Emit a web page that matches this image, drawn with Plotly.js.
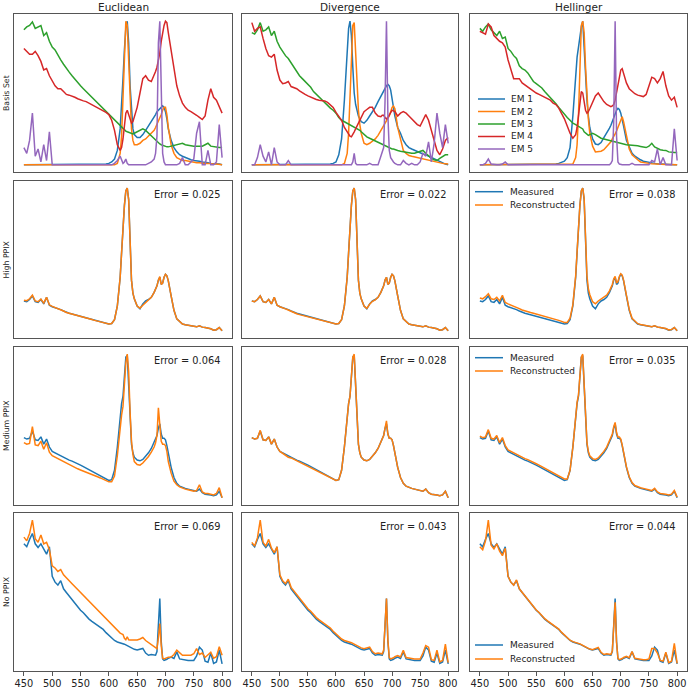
<!DOCTYPE html>
<html>
<head>
<meta charset="utf-8">
<script src="https://cdn.plot.ly/plotly-3.0.1.min.js"></script>
<style>
  html, body { margin: 0; padding: 0; background: #ffffff; }
  #chart { width: 690px; height: 688px; }
</style>
</head>
<body>
<div id="chart"></div>
<script>
// Wavelength grid (nm); finer steps around the 630 nm and 690 nm bands
const wavelength = [450,455,460,465,470,475,480,485,490,495,500,505,510,515,520,525,530,535,540,545,550,555,560,565,570,575,580,585,590,595,600,605,610,615,
  620,622.5,625,627.5,630,632.5,635,637.5,640,642.5,645,
  650,655,660,665,670,675,
  680,682.5,685,687.5,690,692.5,695,697.5,700,702.5,705,
  710,715,720,725,730,735,740,745,750,755,760,765,770,775,780,785,790,795,800];

const methods = ['Euclidean', 'Divergence', 'Hellinger'];
const rowLabels = ['Basis Set', 'High PPIX', 'Medium PPIX', 'No PPIX'];
const endmemberNames = ['EM 1', 'EM 2', 'EM 3', 'EM 4', 'EM 5'];

// ---- Endmember basis spectra (normalised to peak = 100) ----
const euclideanEM1 = [0,0,0,0,0,0,0,0,0,0, 0,0,0,0,0,0,0,0,0,0, 0,0,0,0,0,0,0,0,0,0.5, 1,2,4,10,
  25,40,60,80,95,100,85,55,35,25,21,
  19,19,21,24,27,30,
  33,35,37,38,39,40,41,40,37,32,25,
  17,12,9,7,6,5,4,3.5,3,3,2.5,2,2,1.5,1,1,0.5,0.5,0];
const euclideanEM2 = [0,0,0,0,0,0,0,0,0,0, 0,0,0,0,0,0,0,0,0,0, 0,0,0,0,0,0,0,0,0,0, 0,0,0,1,
  8,20,45,80,100,97,70,40,25,17,14,
  14,15,17,18,20,22,
  24,26,28,30,32,35,38,40,40,35,26,
  14,8,5,4,3,3,2.5,2,2,1.5,1.5,1,1,1,0.5,0.5,0.5,0,0];
const euclideanEM3 = [94,96,97,99.5,95,96,97,90,92,86, 82,80,76,73,70,67,64.5,62,59.5,57, 55,53,51,49,47,45,43,41,39.5,37.5, 35,33,31,29,
  27,26,25,24,23.5,23,22.5,22,21.5,21.5,22,
  23,24.5,25,24,22,20,
  18,17,16,15,14.5,14,13.5,13,12.5,12.5,12.5,
  13,13.5,14,14.5,15,14,13.5,13,13,13,13,13,14,15,13,12.5,12.5,12,12];
const euclideanEM4 = [81,79,77,77,79,76,72,66,67,62, 58,55,53,53,51,49,48.5,48,47,46, 45,44.5,44,43,42,41,40,39,37.5,36.5, 35,31,24,14,
  10,12,18,28,36,38,35,31,29,30,33,
  40,50,60,62,59,58,
  62,65,68,72,78,86,92,97,100,99,92,
  80,65,55,48,43,40,38,37,36,34.5,33,31.5,34,45,53,47,45,41,36];
const euclideanEM5 = [12,8,17,36,6,11,2,14,3,23, 0,0,0,0,0,0,0,0,0,0, 0,0,0,0,0,0,0,0,0,0, 0,0,1,3,
  6,3,1,2,4,1,0,0,0,0,0,
  0,0,0,0,1,2,
  4,8,20,85,100,60,8,2,0,0,0,
  0,0,0,1,5,0,0,2,4,22,30,0,0,10,0,0,2,28,5];

const divergenceEM1 = [0,0,0,0,0,0,0,0,0,0, 0,0,0,0,0,0,0,0,0,0, 0,0,0,0,0,0,0,0,0.5,1, 2,7,18,45,
  80,95,100,90,68,50,42,37,34,32,30,
  29,31,34,37,40,44,
  48,50,52,54,55,56,55,52,47,40,34,
  26,22,17,14,12,11,10,9,8,7.5,7,6,5,4,3,2,1,0.5,0];
const divergenceEM2 = [0,0,0,0,0,0,0,0,0,0, 0,0,0,0,0,0,0,0,0,0, 0,0,0,0,0,0,0,0,0,0, 0,0,0,1,
  8,22,50,80,97,99,80,55,38,28,22,
  15,14,15,16.5,18,20.5,
  24,25.5,27,28.5,30,32,34,37,40,41,39,
  26,17,10,8,6.5,6,5.5,5,4.5,4,3.5,3,2.5,2,1.5,1.2,1,0.8,0.5];
const divergenceEM3 = [92,91,94,99,93,94,96,90,93,86, 82,79,76,74,71,68,65,62,60,58, 56,54,51,49,47,45,43,41,39.5,38, 36,33,31,30,
  29,28.5,28,27.5,27,26.5,26,25.5,25,24,23,
  21,19.5,18.5,17.5,16.5,15.5,
  14.5,14,13.5,13,12.5,12,11.8,11.5,11,11,10.5,
  10,9.5,9,8.5,8,8,8,8.5,9.5,10,8,6,4.5,3.5,3,4.5,6,7,7];
const divergenceEM4 = [99,93,95,96,88,81,76,75,77,66, 59,56.5,57,58,54.5,54,53,51.5,50,49, 48,47,46,45.5,45,45,44.5,43.5,41.5,40, 36.5,34,31,26,
  23,21,20,19.5,21,23,25,27,29,31,34,
  37,38.5,40,40,36,34,
  33.5,34.5,34.5,33,32,33,35,37,38,37.5,37,
  34,36,37,36,34,32,30,28,27,31,35,31,24,16,10,7,11,17,19];
const divergenceEM5 = [0,0,5,14,6,2,9,0,12,2, 0,0,0,3,0,0,0,0,0,0, 0,0,0,0,0,0,0,0,0,0, 0,0,0,0,
  0,0,0,0,2,8,1,0,0,0,0,
  0,0,1,0,0,0,
  6,9,12,45,100,35,10,5,3,2,1,
  0,0,3,1,0,1,0,0,2,8,6,16,2,15,36,22,12,28,15];

const hellingerEM1 = [0,0,0,0,0,0,0,0,0,0, 0,0,0,0,0,0,0,0,0,0, 0,0,0,0,0,0,0,0.5,1,1.5, 2.5,5,12,34,
  63,75,82,90,96,100,80,62,45,34,26,
  18,14.5,14,15.5,19,22,
  25.5,27.5,30,33,35.8,38,39.3,38.5,36,32,27,
  17,12,8,6,4.5,3.5,2.5,2,1.5,1.2,1,0.8,0.6,0.5,0.4,0.3,0.2,0.1,0];
const hellingerEM2 = [0,0,0,0,0,0,0,0,0,0, 0,0,0,0,0,0,0,0,0,0, 0,0,0,0,0,0,0,0,0,0, 0,0,0,0.5,
  5,14,35,75,97,100,92,68,48,32,22,
  13,9,9,9.5,10.5,12.5,
  14.5,16,18,19.5,21.5,23.5,26,29,32,33.5,30,
  20,11,7,5,3.5,2,1.5,1.2,1,0.8,0.6,0.5,0.4,0.3,0.2,0.2,0.1,0.1,0];
const hellingerEM3 = [95,93,96,98,94,92,90,93,88,89, 81,79,76,74,69,67,66,64,61,58, 56.5,55,53.5,51,49,47,45,42.5,40,37.5, 35,33,31,29,
  28,27.5,27,26.5,26,25,23,22,21,20.5,21,
  22,21,19.5,18.5,18,17.5,
  17,16.5,16.3,16,15.5,15.3,15,14.8,14.5,14.4,14.3,
  14,13.8,13.7,13.5,13.2,12.8,12.5,12,13,15,12.5,11.5,10.5,10.2,10,9,8.5,8.5,8.5];
const hellingerEM4 = [93,92,91,98,96,90,88,86,85,82, 73,66,60,60,60,57,55.5,54,52.5,51, 50,49,48,47,46,45,43,42,39.5,36, 32,27,22,18.5,
  21,26,34,44,51,50,43,38,36,37,39,
  44,48,50,47,44,42,
  41,40.5,41,42,45,50,56,62,66,67,63,
  57,53,51,49.5,48.5,48,47.5,49,55,61,60,57,60,65,55,48,45,47,40];
const hellingerEM5 = [0,0,1,4,0.5,0,0,0,0.5,2, 0,0,0,0,0,0,0,0,0,0, 0,0,0,0,0,0,0,0,0,0, 0,0,0,0,
  0,0,0,0,0,0,0,0,0,0,0,
  0,0,0,0,0,0,
  0,1,3,30,100,20,2,0.5,0,0,0,
  0,0,1,0,0,0,0,0,0,3,2,11,0,5,0,0,0,25,3];

// ---- Measured spectra ----
const measuredHigh = [21.5,21,22.5,25,21,20.5,22.5,19.5,24,18.5, 17.5,17,16.3,15.5,14.5,13.5,13,12.5,12,11.5, 11,10.5,10,9.3,8.6,8,7.5,7,6.5,6, 5.5,5.8,8.5,18,
  38,55,74,88,98,100,92,62,36,27,23,
  18,16,19.5,21.5,22.5,24,
  27.5,29.5,32,36,38,33,34,38,40,39,35.5,
  25,15,9,7,5.5,5,4.5,4,3.7,3.5,4.2,3.3,3,2.8,2.2,1.2,1.5,3,0.7];
const measuredMedium = [42.5,41.5,42,47,41,40.5,43,38,41.5,36, 33,32,30.5,29.5,29,28,27,26.3,25.5,24.5, 23.5,22.5,21.5,20.5,19.5,18.5,17.3,16.5,15.5,14.2, 13,13.5,20,36,
  60,66,71,83,98,99,78,55,38,32,29,
  27,26.5,27.5,29.5,32,35,
  39,41.5,44,49,52,45,42,42,41,37,31,
  22,15,11,9,8,7.5,7,6.5,6,5.5,7,4.5,3.5,3.5,3,2.5,3,5.5,1];
const measuredNone = [84,82,87,91,84,81.5,84,80,77,82, 62,58,56,59,53.5,51,48.5,46,43.5,41, 39,37.3,35,33,31.5,30,28.5,27.3,26,23.8, 21.8,20,18.5,17.5,
  17,16.8,16.6,16,15.5,15,14.3,13.6,13.3,13,12.5,
  12,12.5,13.1,10,8.5,9,
  8.7,8.5,11,30,47,18,6,5,5.2,5.8,6.5,
  7.3,6.3,10.8,6,5.5,5,5,5,5,8,14,12,4.5,3.8,10,3,4,12,2.7];

// ---- Reconstructed spectra ----
const reconHighEuclidean = [22,21.7,23,25.5,21.5,21,22.8,20,24,18.8, 17.7,17,16.3,15.5,14.5,13.5,13,12.5,12,11.5, 11,10.5,10,9.3,8.6,8,7.5,7,6.5,6, 5.5,5.8,8.5,18,
  38,55,74,88,98,100,92,62,36,27,23,
  18,16.5,18.5,20.5,22,24,
  27.5,29.5,32,36,38.5,33,34,38,40,39,35.5,
  25,15,9,7,5.5,5,4.5,4,3.7,3.5,4.2,3.3,3,2.8,2.2,1.2,1.5,3,0.7];
const reconHighDivergence = [21.5,21,22.5,25,21,20.5,22.5,19.5,24,18.5, 17.5,17,16,15.2,14.2,13.2,12.6,12,11.5,11, 10.6,10.2,9.7,9.1,8.5,8,7.5,7,6.5,6, 5.5,5.8,8.5,18,
  38,55,74,88,98,100,92,62,36,27,23,
  18,16.3,19.2,21.3,22.3,24,
  27.5,29.5,32,36,38,33,34,38,40,39,35.5,
  25,15,9,7,5.5,5,4.5,4,3.7,3.5,4.2,3.3,3,2.8,2.2,1.2,1.5,3,0.7];
const reconHighHellinger = [23.5,23,24.5,26.5,23,22.5,24,21.5,25.5,20.5, 19.5,18.8,18,17.2,16.2,15.2,14.5,14,13.5,13, 12.5,12,11.5,10.8,10.1,9.5,9,8.5,8,7.3, 6.5,6.5,9.5,19,
  39,56,75,88,98,100,93,64,39,30,26,
  21,19.5,21.5,23,24,25.5,
  28.5,30.5,33,37,38.5,34,35,38.5,40.5,39.5,36,
  25.5,15.5,9.5,7.2,5.7,5.2,4.7,4.2,3.8,3.6,4.3,3.4,3.1,2.9,2.3,1.4,1.6,3,0.8];

const reconMediumEuclidean = [39,38,38.5,50,37.5,37,40,34.5,39,32.5, 30,29,27.5,26.5,25.5,24.5,23.5,22.8,22,21, 20.2,19.5,18.8,18,17.2,16.4,15.5,14.7,13.8,12.8, 12,12,16,30,
  52,58,64,78,94,100,88,60,40,31,26,
  24,23.5,25,27,29.5,32.5,
  36,39,44,63,50,40,38,38,37,33,26,
  18,12.5,10,8.5,7.5,7,6.5,6,5.5,6,10,5,4,4,3.5,3,4,8,1];
const reconMediumDivergence = [42.5,41.5,42,47.5,41,40.5,43,38,41.5,36, 33,31.5,30,29,28.5,27.5,26.5,25.8,25,24, 23,22,21,20,19,18,17,16,15,14, 13,13.5,20,36,
  60,66,71,83,98,100,78,55,38,32,29,
  27,26.5,27.5,29.5,32,35,
  39,41.5,44,49,54,45,42,42,41,37,31,
  22,15,11,9,8,7.5,7,6.5,6,5.5,7,4.5,3.5,3.5,3,2.5,3,5.5,1];
const reconMediumHellinger = [43.5,42.5,43,48,42,41.5,44,39,42.5,37, 34,33,31.5,30.5,30,29,28,27.3,26.5,25.5, 24.5,23.5,22.5,21.5,20.5,19.5,18.3,17.5,16.5,15.2, 14,14,20,36,
  60,67,72,84,98,100,79,56,39,33,30,
  28,27.5,28.5,30.5,33,36,
  40,42.5,45,50,53,46,43,43,41.5,37.5,31.5,
  22.5,15.5,11.5,9.5,8.5,8,7.5,7,6.5,6,7.5,5,4,4,3.5,3,3.5,6,1.5];

const reconNoneEuclidean = [88.5,86,91,100,87.5,85,90,84,85,80, 69,67.6,65.3,66.5,63,60.7,59,57,55,53, 51.4,49.5,47.5,45.5,43.5,41.5,39.5,37.5,35.5,33.5, 31.5,29.5,27.5,25.5,
  23.5,23,22.5,20,19,21,19,18.9,18.9,19,19,
  18.9,19.5,20.5,18.5,17.2,15.5,
  14.3,13.5,13,20,30,15,6.5,6,6.5,7,7.2,
  7.3,9,12,10,8.5,8.5,8.5,8.5,9.5,13,9,10,7,9,10.5,6.5,7.5,14.3,8.5];
const reconNoneDivergence = [85,82.5,88,100,85,82.5,87,81,78,82, 63,59,57,60,54.5,52,49.5,47,44.5,42, 40,38.3,36,34,32.5,31,29.5,28.3,27,24.8, 22.8,21,19.5,18.5,
  18,17.8,17.6,17,16.5,16,15.3,14.6,14.3,14,13.5,
  13,13.5,14,11,9.5,10,
  9.7,9.5,12,31,47,19,7,6,6.2,6.8,7.5,
  8.3,7.3,11.8,7,6.5,6,6,6,6,10,15,14,5.5,5,12,4,5,16,3.5];
const reconNoneHellinger = [82,80,86,100,83,80.5,84,79,76,81, 62,58,56,59.5,53.5,51,48.5,46,43.5,41, 39.2,37.5,35.3,33.3,31.8,30.3,28.8,27.5,26.2,24, 22,20.2,18.7,17.7,
  17.2,17,16.8,16.2,15.7,15.2,14.5,13.8,13.5,13.2,12.7,
  12.2,13,13.8,10.5,9,9.5,
  9.2,9,11.5,30,44.4,17,6.5,5.5,5.7,6.3,7,
  7.8,6.8,11,6.5,6,5.5,5.5,5.5,6,13,13,10,5,4.5,10.5,3.5,4.5,16.6,3];

// Reconstruction error per sample row (High, Medium, No PPIX) and method
const errorHigh = [0.025, 0.022, 0.038];
const errorMedium = [0.064, 0.028, 0.035];
const errorNone = [0.069, 0.043, 0.044];

const tickValues = [450, 500, 550, 600, 650, 700, 750, 800];

// ---- assembly ----
const basisSets = [
  [euclideanEM1, euclideanEM2, euclideanEM3, euclideanEM4, euclideanEM5],
  [divergenceEM1, divergenceEM2, divergenceEM3, divergenceEM4, divergenceEM5],
  [hellingerEM1, hellingerEM2, hellingerEM3, hellingerEM4, hellingerEM5]
];
const measuredRows = [measuredHigh, measuredMedium, measuredNone];
const reconRows = [
  [reconHighEuclidean, reconHighDivergence, reconHighHellinger],
  [reconMediumEuclidean, reconMediumDivergence, reconMediumHellinger],
  [reconNoneEuclidean, reconNoneDivergence, reconNoneHellinger]
];
const errorRows = [errorHigh, errorMedium, errorNone];

const W = 690, H = 688;
const colPx = [[14, 232], [242, 458], [470, 687]];
const rowPx = [[14, 172], [181, 338], [347, 505], [513, 671]];
const px = x => x / W;
const py = y => 1 - y / H;

const emColors = ['#1f77b4', '#ff7f0e', '#2ca02c', '#d62728', '#9467bd'];
const measuredColor = '#1f77b4';
const reconColor = '#ff7f0e';
const frameColor = '#555555';
const textColor = '#222222';
const FONT = 'DejaVu Sans, Verdana, sans-serif';
const LW = 1.5;

const traces = [];
const layout = {
  width: W, height: H,
  margin: { l: 0, r: 0, t: 0, b: 0 },
  paper_bgcolor: '#ffffff', plot_bgcolor: '#ffffff',
  showlegend: false, hovermode: false,
  font: { family: FONT, color: textColor },
  annotations: [], shapes: []
};

function paddedRange(series) {
  let lo = Infinity, hi = -Infinity;
  series.forEach(s => s.forEach(v => { if (v < lo) lo = v; if (v > hi) hi = v; }));
  const pad = (hi - lo) * 0.05;
  return [lo - pad, hi + pad];
}

for (let r = 0; r < 4; r++) {
  for (let c = 0; c < 3; c++) {
    const k = r * 3 + c + 1;
    const xid = k === 1 ? 'x' : 'x' + k;
    const yid = k === 1 ? 'y' : 'y' + k;
    let panelSeries;
    if (r === 0) {
      panelSeries = basisSets[c];
      panelSeries.forEach((s, i) => traces.push({
        x: wavelength, y: s, type: 'scatter', mode: 'lines', name: endmemberNames[i],
        xaxis: xid, yaxis: yid, line: { color: emColors[i], width: LW }
      }));
    } else {
      const meas = measuredRows[r - 1];
      const rec = reconRows[r - 1][c];
      panelSeries = [meas, rec];
      traces.push({ x: wavelength, y: meas, type: 'scatter', mode: 'lines', name: 'Measured',
        xaxis: xid, yaxis: yid, line: { color: measuredColor, width: LW } });
      traces.push({ x: wavelength, y: rec, type: 'scatter', mode: 'lines', name: 'Reconstructed',
        xaxis: xid, yaxis: yid, line: { color: reconColor, width: LW } });
      layout.annotations.push({
        xref: xid + ' domain', yref: yid + ' domain', x: 0.952, y: 0.912,
        xanchor: 'right', yanchor: 'middle', showarrow: false,
        text: 'Error = ' + errorRows[r - 1][c].toFixed(3),
        font: { family: FONT, size: 9.8, color: textColor }
      });
    }
    const bottom = r === 3;
    layout['xaxis' + (k === 1 ? '' : k)] = {
      domain: [px(colPx[c][0]), px(colPx[c][1])],
      anchor: yid, range: [432.5, 817.5],
      showline: true, mirror: true, linecolor: frameColor, linewidth: 1,
      showgrid: false, zeroline: false,
      tickmode: 'array', tickvals: tickValues,
      showticklabels: bottom, ticks: bottom ? 'outside' : '',
      ticklen: 3.5, tickwidth: 1, tickcolor: frameColor,
      tickfont: { family: FONT, size: 9.8, color: textColor }
    };
    layout['yaxis' + (k === 1 ? '' : k)] = {
      domain: [py(rowPx[r][1]), py(rowPx[r][0])],
      anchor: xid, range: paddedRange(panelSeries),
      showline: true, mirror: true, linecolor: frameColor, linewidth: 1,
      showgrid: false, zeroline: false, showticklabels: false, ticks: ''
    };
  }
}

// Column titles
methods.forEach((m, c) => layout.annotations.push({
  xref: 'paper', yref: 'paper', x: px((colPx[c][0] + colPx[c][1]) / 2), y: py(7),
  xanchor: 'center', yanchor: 'middle', showarrow: false, text: m,
  font: { family: FONT, size: 10.5, color: textColor }
}));

// Row labels
rowLabels.forEach((lab, r) => layout.annotations.push({
  xref: 'paper', yref: 'paper', x: px(6), y: py((rowPx[r][0] + rowPx[r][1]) / 2),
  xanchor: 'center', yanchor: 'middle', showarrow: false, textangle: -90, text: lab,
  font: { family: FONT, size: 7.8, color: textColor }
}));

// Legend boxes drawn in the right-hand column
function addLegend(items, x0, x1, xt) {
  items.forEach(it => {
    layout.shapes.push({ type: 'line', xref: 'paper', yref: 'paper',
      x0: px(x0), x1: px(x1), y0: py(it.y), y1: py(it.y),
      line: { color: it.color, width: LW } });
    layout.annotations.push({ xref: 'paper', yref: 'paper', x: px(xt), y: py(it.y),
      xanchor: 'left', yanchor: 'middle', showarrow: false, text: it.label,
      font: { family: FONT, size: 9, color: textColor } });
  });
}
addLegend(endmemberNames.map((n, i) => ({ label: n, color: emColors[i], y: 99 + i * 12.5 })), 478, 505, 509);
[[191.7, 205], [357.7, 371], [645, 659]].forEach(([ya, yb]) => addLegend([
  { label: 'Measured', color: measuredColor, y: ya },
  { label: 'Reconstructed', color: reconColor, y: yb }
], 475, 503, 508));

Plotly.newPlot('chart', traces, layout, { staticPlot: true, displayModeBar: false });
</script>
</body>
</html>
